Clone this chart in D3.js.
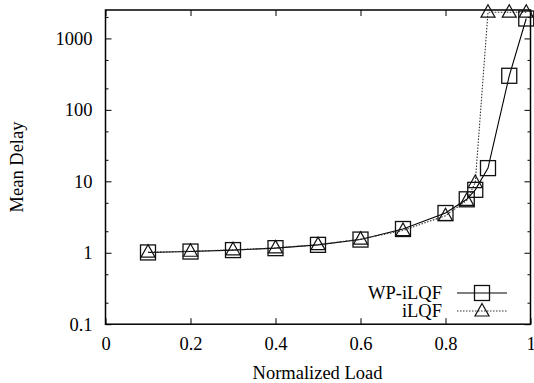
<!DOCTYPE html>
<html>
<head>
<meta charset="utf-8">
<script src="https://cdn.jsdelivr.net/npm/d3@7"></script>
<style>
  body { margin: 0; background: #fff; }
  text { font-family: "Liberation Serif", "DejaVu Serif", serif; }
</style>
</head>
<body>
<div id="chart"></div>
<script>
// load values
const loads = [0.1, 0.2, 0.3, 0.4, 0.5, 0.6, 0.7, 0.8, 0.85, 0.87, 0.9, 0.95, 0.99]
const wpIlqf = [1.01, 1.04, 1.09, 1.16, 1.29, 1.53, 2.15, 3.6, 5.6, 7.6, 15.3, 300, 1900]
const ilqf = [1.02, 1.05, 1.1, 1.17, 1.3, 1.55, 2.05, 3.3, 5.4, 9.6, 2330, 2330, 2330]
const seriesNames = ["WP-iLQF", "iLQF"]
const xTicks = [0, 0.2, 0.4, 0.6, 0.8, 1]
const yTicks = [0.1, 1, 10, 100, 1000]
const yMinor = [0.2, 0.5, 2, 5, 20, 50, 200, 500, 2000]

const W = 534, H = 383
const pLeft = 105.5, pRight = 530.5, pTop = 10, pBottom = 324.2
const fontSize = "18.5px"

const svg = d3.select("#chart").append("svg")
  .attr("width", W).attr("height", H)

const x = d3.scaleLinear().domain([0, 1]).range([pLeft, pRight])
const y = d3.scaleLog().domain([0.1, 2500]).range([pBottom, pTop])

svg.append("defs").append("clipPath").attr("id", "plot")
  .append("rect").attr("x", pLeft).attr("y", pTop)
  .attr("width", pRight - pLeft).attr("height", pBottom - pTop)

// axes, ticks pointing inward
function styleAxis(g) {
  g.select(".domain").remove()
  g.selectAll("line").attr("stroke", "#000").attr("stroke-width", 1)
  g.selectAll("text").attr("font-size", fontSize).attr("fill", "#000")
    .style("font-family", '"Liberation Serif", serif')
}

svg.append("g").attr("transform", `translate(0,${pBottom})`)
  .call(d3.axisBottom(x).tickValues(xTicks).tickFormat(d3.format("")).tickSizeInner(-6).tickSizeOuter(0).tickPadding(13))
  .call(styleAxis)
svg.append("g").attr("transform", `translate(0,${pTop})`)
  .call(d3.axisTop(x).tickValues(xTicks).tickFormat("").tickSizeInner(-6).tickSizeOuter(0))
  .call(styleAxis)

svg.append("g").attr("transform", `translate(${pLeft},0)`)
  .call(d3.axisLeft(y).tickValues(yTicks).tickFormat(d => d3.format("")(d)).tickSizeInner(-6).tickSizeOuter(0).tickPadding(13))
  .call(styleAxis)
svg.append("g").attr("transform", `translate(${pLeft},0)`)
  .call(d3.axisLeft(y).tickValues(yMinor).tickFormat("").tickSizeInner(-3).tickSizeOuter(0))
  .call(styleAxis)
svg.append("g").attr("transform", `translate(${pRight},0)`)
  .call(d3.axisRight(y).tickValues(yTicks).tickFormat("").tickSizeInner(-6).tickSizeOuter(0))
  .call(styleAxis)
svg.append("g").attr("transform", `translate(${pRight},0)`)
  .call(d3.axisRight(y).tickValues(yMinor).tickFormat("").tickSizeInner(-3).tickSizeOuter(0))
  .call(styleAxis)

svg.append("rect")
  .attr("x", pLeft).attr("y", pTop)
  .attr("width", pRight - pLeft).attr("height", pBottom - pTop)
  .attr("fill", "none").attr("stroke", "#000").attr("stroke-width", 1.5)

// axis titles
svg.append("text")
  .attr("x", (pLeft + pRight) / 2 - 0.5).attr("y", 379)
  .attr("text-anchor", "middle").attr("font-size", fontSize)
  .text("Normalized Load")
svg.append("text")
  .attr("transform", "translate(23,167) rotate(-90)")
  .attr("text-anchor", "middle").attr("font-size", fontSize)
  .text("Mean Delay")

const line = d3.line().x(d => x(d[0])).y(d => y(d[1]))

const wpData = loads.map((l, i) => [l, wpIlqf[i]])
const ilData = loads.map((l, i) => [l, ilqf[i]])

const square = (g, cx, cy) => g.append("rect")
  .attr("x", cx - 7.5).attr("y", cy - 7.5).attr("width", 15).attr("height", 15)
  .attr("fill", "none").attr("stroke", "#111").attr("stroke-width", 1.3)
const triangle = (g, cx, cy) => g.append("path")
  .attr("d", `M${cx},${cy - 7.5}L${cx + 7},${cy + 5}L${cx - 7},${cy + 5}Z`)
  .attr("fill", "none").attr("stroke", "#111").attr("stroke-width", 1.2)

// lines
svg.append("path").datum(wpData)
  .attr("clip-path", "url(#plot)")
  .attr("d", line).attr("fill", "none").attr("stroke", "#000").attr("stroke-width", 1.1)
svg.append("path").datum(ilData)
  .attr("clip-path", "url(#plot)")
  .attr("d", line).attr("fill", "none").attr("stroke", "#333")
  .attr("stroke-width", 1.1).attr("stroke-dasharray", "1.5,1.5")

// markers
const mk = svg.append("g")
wpData.forEach(d => square(mk, x(d[0]), y(d[1])))
ilData.forEach(d => triangle(mk, x(d[0]), y(d[1])))

// legend
const leg = svg.append("g")
const rows = [293, 311]
seriesNames.forEach((name, i) => {
  leg.append("text")
    .attr("x", 442).attr("y", rows[i]).attr("dy", "0.33em")
    .attr("text-anchor", "end").attr("font-size", fontSize)
    .text(name)
  leg.append("line")
    .attr("x1", 457).attr("x2", 507).attr("y1", rows[i]).attr("y2", rows[i])
    .attr("stroke", i === 0 ? "#000" : "#333").attr("stroke-width", 1.1)
    .attr("stroke-dasharray", i === 0 ? null : "1.5,1.5")
  if (i === 0) square(leg, 482, rows[i])
  else triangle(leg, 482, rows[i])
})
</script>
</body>
</html>
